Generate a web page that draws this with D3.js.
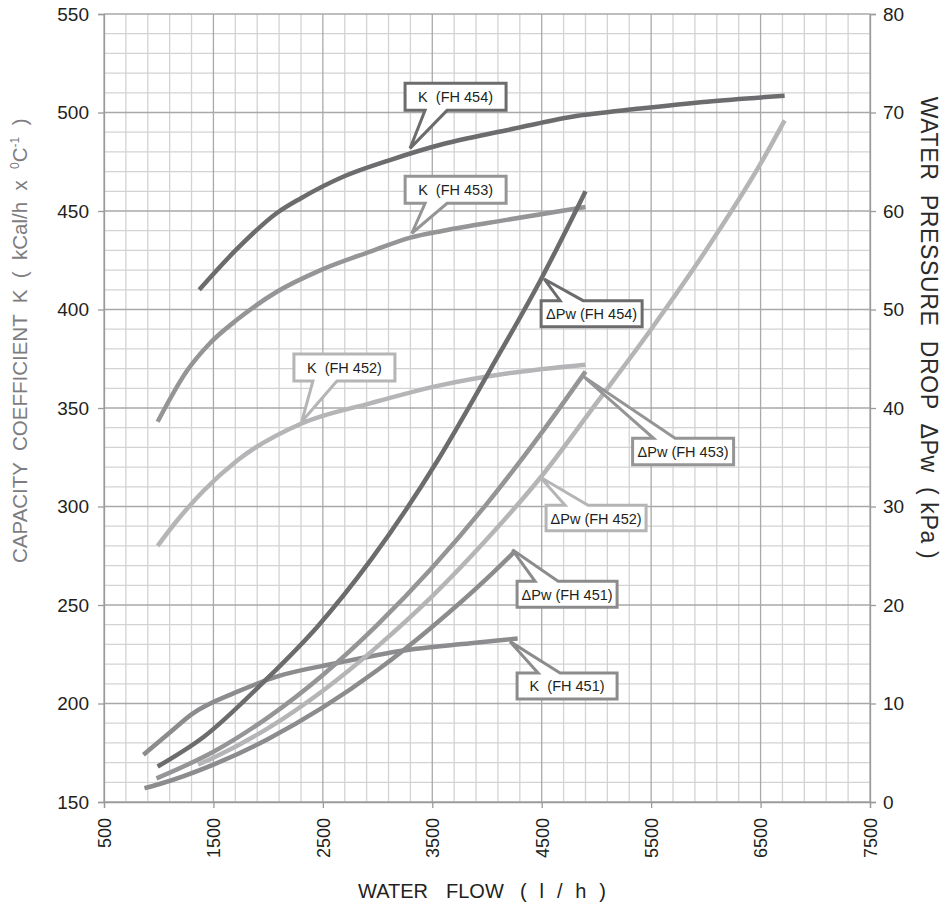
<!DOCTYPE html>
<html>
<head>
<meta charset="utf-8">
<script src="https://cdn.jsdelivr.net/npm/d3@7"></script>
<style>
  html, body { margin: 0; padding: 0; background: #fff; }
  svg { display: block; font-family: "Liberation Sans", Arial, sans-serif; }
</style>
</head>
<body>
<svg id="chart" width="947" height="908"></svg>
<script>
// ---------- DATA ----------
const xTicks = [500, 1500, 2500, 3500, 4500, 5500, 6500, 7500];
const kTicks = [150, 200, 250, 300, 350, 400, 450, 500, 550];
const pTicks = [0, 10, 20, 30, 40, 50, 60, 70, 80];

// Capacity coefficient K (kCal/h x °C-1)
const flowK454 = [1370, 1720, 2080, 2300, 2690, 3120, 3600, 4180, 4790, 5400, 6010, 6720];
const kFH454   = [410, 431, 449, 456.5, 467.5, 476, 484, 491, 498, 502, 505.5, 508.5];
const flowK453 = [990, 1260, 1470, 1720, 2080, 2480, 2940, 3300, 3600, 4180, 4900];
const kFH453   = [343, 369, 383, 395, 409, 420, 429.5, 436.5, 440, 445.5, 452];
const flowK452 = [990, 1170, 1410, 1720, 2300, 2940, 3570, 4180, 4900];
const kFH452   = [280, 293, 308, 323.5, 342, 352.5, 361.5, 367.5, 372];
const flowK451 = [860, 1110, 1300, 1720, 2100, 2620, 3220, 3850, 4280];
const kFH451   = [174, 185.7, 194.5, 206, 214, 220.4, 226.8, 230.6, 233];

// Water pressure drop ΔPw (kPa)
const flowP454 = [990, 1410, 1960, 2450, 2940, 3550, 4030, 4490, 4900];
const pFH454   = [3.6, 6.6, 12.2, 17.8, 24.6, 34.7, 43.9, 53.0, 62.0];
const flowP453 = [980, 1500, 2000, 2500, 3000, 3500, 4000, 4500, 4900];
const pFH453   = [2.4, 5.1, 8.6, 12.9, 18.0, 23.8, 30.3, 37.5, 43.7];
const flowP452 = [1360, 1500, 2000, 2500, 3000, 3500, 4000, 4500, 5000, 5500, 6000, 6500, 6720];
const pFH452   = [3.8, 4.5, 7.5, 11.3, 15.8, 20.9, 26.7, 33.1, 40.5, 48.0, 56.0, 64.8, 69.2];
const flowP451 = [870, 1000, 1500, 2000, 2500, 3000, 3500, 4000, 4250];
const pFH451   = [1.4, 1.8, 3.8, 6.4, 9.6, 13.4, 17.8, 22.7, 25.4];

const seriesNames = ["FH 451", "FH 452", "FH 453", "FH 454"];
const seriesColors = {"FH 451": "#8c8c8e", "FH 452": "#b5b5b7", "FH 453": "#959597", "FH 454": "#6c6c6e"};

// ---------- LAYOUT ----------
const svg = d3.select("#chart");
const L = 104, R = 870, T = 14, B = 802;
const x = d3.scaleLinear().domain([500, 7500]).range([L, R]);
const yK = d3.scaleLinear().domain([150, 550]).range([B, T]);
const yP = d3.scaleLinear().domain([0, 80]).range([B, T]);

// grid
const grid = svg.append("g");
const xg = d3.range(500, 7501, 200);
const yg = d3.range(150, 551, 10);
const minorCol = "#d3d3d3", majorCol = "#a9a9a9";
grid.selectAll(".vx").data(xg.filter(v => (v - 500) % 1000 !== 0)).join("line")
  .attr("x1", d => x(d)).attr("x2", d => x(d)).attr("y1", T).attr("y2", B)
  .attr("stroke", minorCol).attr("stroke-width", 1.3);
grid.selectAll(".hy").data(yg.filter(v => (v - 150) % 50 !== 0)).join("line")
  .attr("x1", L).attr("x2", R).attr("y1", d => yK(d)).attr("y2", d => yK(d))
  .attr("stroke", minorCol).attr("stroke-width", 1.3);
grid.selectAll(".vxM").data(xg.filter(v => (v - 500) % 1000 === 0)).join("line")
  .attr("x1", d => x(d)).attr("x2", d => x(d)).attr("y1", T).attr("y2", B)
  .attr("stroke", majorCol).attr("stroke-width", 1.3);
grid.selectAll(".hyM").data(yg.filter(v => (v - 150) % 50 === 0)).join("line")
  .attr("x1", L).attr("x2", R).attr("y1", d => yK(d)).attr("y2", d => yK(d))
  .attr("stroke", majorCol).attr("stroke-width", 1.3);

// axes
const axisCol = "#9a9a9a", labelCol = "#231f20";
const gl = svg.append("g").attr("transform", `translate(${L},0)`)
  .call(d3.axisLeft(yK).tickValues(kTicks).tickSize(6).tickPadding(9).tickFormat(d3.format("d")));
const gr = svg.append("g").attr("transform", `translate(${R},0)`)
  .call(d3.axisRight(yP).tickValues(pTicks).tickSize(6).tickPadding(7).tickFormat(d3.format("d")));
const gb = svg.append("g").attr("transform", `translate(0,${B})`)
  .call(d3.axisBottom(x).tickValues(xTicks).tickSize(6).tickFormat(d3.format("d")));
[gl, gr, gb].forEach(g => {
  g.select(".domain").attr("stroke", axisCol).attr("stroke-width", 1.3);
  g.selectAll(".tick line").attr("stroke", axisCol).attr("stroke-width", 1.3);
  g.selectAll(".tick text").attr("fill", labelCol).style("font-size", "19px")
    .style("font-family", "'Liberation Sans', Arial, sans-serif");
});
gb.selectAll(".tick text")
  .style("font-size", "18px")
  .attr("transform", "rotate(-90)")
  .attr("text-anchor", "end")
  .attr("x", -16).attr("y", 0).attr("dy", "0.35em");

// axis titles
const bt = svg.append("text").attr("y", 898)
  .style("font-size", "20px").style("white-space", "pre").attr("fill", labelCol);
bt.append("tspan").attr("x", 358).text("WATER");
bt.append("tspan").attr("x", 446).text("FLOW");
bt.append("tspan").attr("x", 520).attr("textLength", 86).attr("lengthAdjust", "spacing").text("(  l  /  h  )");

const lt = svg.append("text").attr("transform", "translate(26.5,563) rotate(-90)")
  .style("font-size", "20.5px").style("white-space", "pre").attr("fill", "#7d7d7f");
lt.append("tspan").text("CAPACITY  COEFFICIENT  K  (  kCal/h  x  ");
lt.append("tspan").text("0").style("font-size", "12px").attr("dy", -8);
lt.append("tspan").text("C").attr("dy", 8);
lt.append("tspan").text("-1").style("font-size", "12px").attr("dy", -8);
lt.append("tspan").text("  )").attr("dy", 8);

svg.append("text").attr("transform", "translate(921,96.7) rotate(90)")
  .style("font-size", "23px").style("white-space", "pre").attr("fill", "#2a2a2a")
  .attr("textLength", 462).attr("lengthAdjust", "spacing")
  .text("WATER  PRESSURE  DROP  ΔPw  ( kPa )");

// ---------- CURVES ----------
const curves = [
  {name: "FH 451", flows: flowK451, vals: kFH451, scale: yK},
  {name: "FH 452", flows: flowK452, vals: kFH452, scale: yK},
  {name: "FH 453", flows: flowK453, vals: kFH453, scale: yK},
  {name: "FH 454", flows: flowK454, vals: kFH454, scale: yK},
  {name: "FH 451", flows: flowP451, vals: pFH451, scale: yP},
  {name: "FH 453", flows: flowP453, vals: pFH453, scale: yP},
  {name: "FH 452", flows: flowP452, vals: pFH452, scale: yP},
  {name: "FH 454", flows: flowP454, vals: pFH454, scale: yP}
];
const cg = svg.append("g");
curves.forEach(c => {
  const pts = c.flows.map((f, i) => [f, c.vals[i]]);
  const line = d3.line().x(d => x(d[0])).y(d => c.scale(d[1])).curve(d3.curveMonotoneX);
  cg.append("path").datum(pts).attr("d", line)
    .attr("fill", "none").attr("stroke", seriesColors[c.name])
    .attr("stroke-width", 4.5).attr("stroke-linecap", "butt");
});

// ---------- CALLOUTS ----------
// tip anchored on a curve (data coords), box offset from tip in px
const callouts = [
  {text: "K  (FH 454)",  name: "FH 454", tf: 3297, tv: 481.8, ax: "K", dx: -5,   dy: -65,  w: 101, h: 27, b1: 20, b2: 42, side: "bottom"},
  {text: "K  (FH 453)",  name: "FH 453", tf: 3313, tv: 438.7, ax: "K", dx: -6.7, dy: -57,  w: 101, h: 27, b1: 20, b2: 42, side: "bottom"},
  {text: "K  (FH 452)",  name: "FH 452", tf: 2306, tv: 343,   ax: "K", dx: -7.7, dy: -67.7,w: 101, h: 27, b1: 19, b2: 43, side: "bottom"},
  {text: "ΔPw (FH 454)", name: "FH 454", tf: 4522, tv: 53.1,  ax: "P", dx: -3,   dy: 21.7, w: 101, h: 26, b1: 19, b2: 42, side: "top"},
  {text: "ΔPw (FH 453)", name: "FH 453", tf: 4881, tv: 43.2,  ax: "P", dx: 49.2, dy: 61.8, w: 101, h: 26.5, b1: 21, b2: 42.5, side: "top"},
  {text: "ΔPw (FH 452)", name: "FH 452", tf: 4485, tv: 33.0,  ax: "P", dx: 6,    dy: 28.3, w: 100, h: 25.5, b1: 19, b2: 42, side: "top"},
  {text: "ΔPw (FH 451)", name: "FH 451", tf: 4232, tv: 25.6,  ax: "P", dx: 4.7,  dy: 31.5, w: 100, h: 26, b1: 18, b2: 41, side: "top"},
  {text: "K  (FH 451)",  name: "FH 451", tf: 4211, tv: 231.4, ax: "K", dx: 7,    dy: 31.3, w: 100, h: 26, b1: 21, b2: 43, side: "top"}
];
const ag = svg.append("g");
callouts.forEach(c => {
  const tx = x(c.tf), ty = (c.ax === "K" ? yK : yP)(c.tv);
  const bx = tx + c.dx, by = ty + c.dy, bw = c.w, bh = c.h;
  let p;
  if (c.side === "bottom") {
    p = `M${bx},${by}H${bx + bw}V${by + bh}H${bx + c.b2}L${tx},${ty}L${bx + c.b1},${by + bh}H${bx}Z`;
  } else {
    p = `M${bx},${by}H${bx + c.b1}L${tx},${ty}L${bx + c.b2},${by}H${bx + bw}V${by + bh}H${bx}Z`;
  }
  ag.append("path").attr("d", p).attr("fill", "#fff")
    .attr("stroke", seriesColors[c.name]).attr("stroke-width", 3).attr("stroke-linejoin", "miter");
  ag.append("text").attr("x", bx + bw / 2).attr("y", by + bh / 2 + 5.5)
    .attr("text-anchor", "middle").style("font-size", "14.5px").style("white-space", "pre")
    .attr("fill", labelCol).text(c.text);
});
</script>
</body>
</html>
